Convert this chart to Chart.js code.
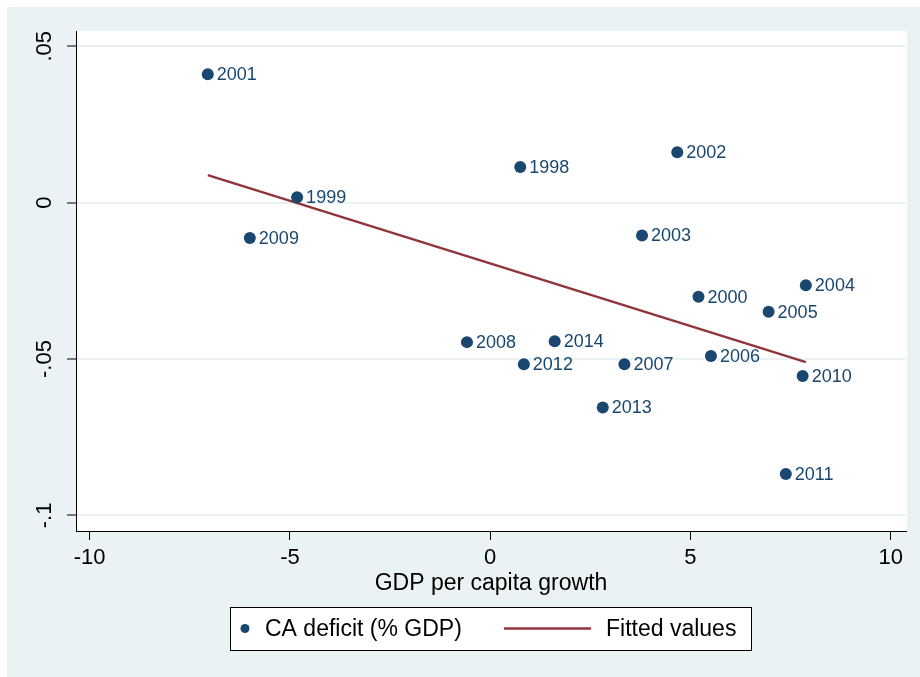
<!DOCTYPE html>
<html>
<head>
<meta charset="utf-8">
<script src="https://cdn.jsdelivr.net/npm/chart.js@4.4.0/dist/chart.umd.min.js"></script>
<style>
html,body{margin:0;padding:0;background:#ffffff;}
#wrap{width:920px;height:677px;position:relative;}
</style>
</head>
<body>
<div id="wrap"><canvas id="c" width="920" height="677"></canvas></div>
<script>
// ---- data ----
const years = [1998, 1999, 2000, 2001, 2002, 2003, 2004, 2005, 2006, 2007, 2008, 2009, 2010, 2011, 2012, 2013, 2014];
const growth = [0.75, -4.82, 5.20, -7.05, 4.67, 3.79, 7.88, 6.95, 5.51, 3.35, -0.58, -6.00, 7.80, 7.38, 0.84, 2.81, 1.61];
const caDeficit = [0.0114, 0.0017, -0.0301, 0.0411, 0.0161, -0.0105, -0.0264, -0.0349, -0.0490, -0.0517, -0.0446, -0.0113, -0.0554, -0.0868, -0.0517, -0.0655, -0.0443];
const fitX = [-7.05, 7.88];
const fitY = [0.0088, -0.0510];
const xTickValues = [-10, -5, 0, 5, 10];
const xTickLabels = ['-10', '-5', '0', '5', '10'];
const yTickValues = [-0.1, -0.05, 0, 0.05];
const yTickLabels = ['-.1', '-.05', '0', '.05'];
const xTitle = 'GDP per capita growth';
const seriesNames = ['CA deficit (% GDP)', 'Fitted values'];

// ---- styles ----
const FONT = '"Liberation Sans", Arial, sans-serif';
const NAVY = '#1a476f';
const MAROON = '#90353b';
const BG = '#eaf2f3';

const scatterData = growth.map((g, i) => ({x: g, y: caDeficit[i]}));
const fitData = fitX.map((v, i) => ({x: v, y: fitY[i]}));

const backgroundPlugin = {
  id: 'bg',
  beforeDraw(chart) {
    const ctx = chart.ctx;
    const a = chart.chartArea;
    ctx.save();
    ctx.fillStyle = '#ffffff';
    ctx.fillRect(0, 0, chart.width, chart.height);
    ctx.fillStyle = BG;
    ctx.fillRect(7, 7, chart.width - 7, chart.height - 7);
    ctx.fillStyle = '#ffffff';
    ctx.fillRect(a.left, a.top, a.right - a.left + 1, a.bottom - a.top);
    ctx.restore();
  }
};

const pointLabelPlugin = {
  id: 'pointLabels',
  afterDatasetsDraw(chart) {
    const ctx = chart.ctx;
    const meta = chart.getDatasetMeta(0);
    ctx.save();
    ctx.font = '18px ' + FONT;
    ctx.fillStyle = NAVY;
    ctx.textAlign = 'left';
    ctx.textBaseline = 'middle';
    meta.data.forEach((el, i) => {
      ctx.fillText(String(years[i]), el.x + 9, el.y + 1);
    });
    ctx.restore();
  }
};

const legendPlugin = {
  id: 'boxLegend',
  afterDraw(chart) {
    const ctx = chart.ctx;
    const ds = chart.data.datasets;
    const bx = 230, by = 607, bw = 521, bh = 43;
    const cy = by + bh / 2;
    ctx.save();
    ctx.fillStyle = '#ffffff';
    ctx.fillRect(bx, by, bw, bh);
    ctx.strokeStyle = '#000000';
    ctx.lineWidth = 1;
    ctx.strokeRect(bx + 0.5, by + 0.5, bw, bh);
    // marker
    ctx.fillStyle = ds[0].backgroundColor;
    ctx.beginPath();
    ctx.arc(245, cy, 4.5, 0, Math.PI * 2);
    ctx.fill();
    ctx.font = '23px ' + FONT;
    ctx.fillStyle = '#000000';
    ctx.textBaseline = 'middle';
    ctx.textAlign = 'left';
    ctx.fillText(ds[0].label, 265, cy + 1);
    // line
    ctx.strokeStyle = ds[1].borderColor;
    ctx.lineWidth = 2.5;
    ctx.beginPath();
    ctx.moveTo(504, cy);
    ctx.lineTo(591, cy);
    ctx.stroke();
    ctx.fillStyle = '#000000';
    ctx.fillText(ds[1].label, 606, cy + 1);
    ctx.restore();
  }
};

new Chart(document.getElementById('c'), {
  type: 'scatter',
  data: {
    datasets: [
      {
        label: seriesNames[0],
        data: scatterData,
        backgroundColor: NAVY,
        borderColor: NAVY,
        borderWidth: 0,
        pointRadius: 6,
        pointHoverRadius: 6,
        order: 1
      },
      {
        type: 'line',
        label: seriesNames[1],
        data: fitData,
        borderColor: MAROON,
        backgroundColor: MAROON,
        borderWidth: 2.5,
        pointRadius: 0,
        showLine: true,
        fill: false,
        order: 2
      }
    ]
  },
  options: {
    responsive: false,
    devicePixelRatio: 1,
    animation: false,
    layout: {padding: {top: 31, right: 14, bottom: 77, left: 0}},
    plugins: {
      legend: {display: false},
      tooltip: {enabled: false}
    },
    scales: {
      x: {
        type: 'linear',
        min: -10.34,
        max: 10.38,
        afterBuildTicks(s) { s.ticks = xTickValues.map(v => ({value: v})); },
        afterFit(s) { s.height = 69; },
        ticks: {
          callback: (v, i) => xTickLabels[i],
          font: {family: FONT, size: 22},
          color: '#000000',
          padding: 5,
          maxRotation: 0,
          minRotation: 0
        },
        grid: {
          drawOnChartArea: false,
          drawTicks: true,
          tickLength: 9,
          tickColor: '#000000',
          tickWidth: 1
        },
        border: {display: true, color: '#000000', width: 1},
        title: {
          display: true,
          text: xTitle,
          font: {family: FONT, size: 23},
          color: '#000000',
          padding: {top: 0, bottom: 3}
        }
      },
      y: {
        type: 'linear',
        min: -0.105,
        max: 0.0549,
        afterBuildTicks(s) { s.ticks = yTickValues.map(v => ({value: v})); },
        afterFit(s) { s.width = 76; },
        ticks: {
          callback: (v, i) => yTickLabels[i],
          font: {family: FONT, size: 22},
          color: '#000000',
          minRotation: 90,
          maxRotation: 90,
          crossAlign: 'center',
          padding: 3
        },
        grid: {
          color: BG,
          lineWidth: 2,
          drawTicks: true,
          tickLength: 9,
          tickColor: '#000000',
          tickWidth: 1
        },
        border: {display: true, color: '#000000', width: 1}
      }
    }
  },
  plugins: [backgroundPlugin, pointLabelPlugin, legendPlugin]
});
</script>
</body>
</html>
